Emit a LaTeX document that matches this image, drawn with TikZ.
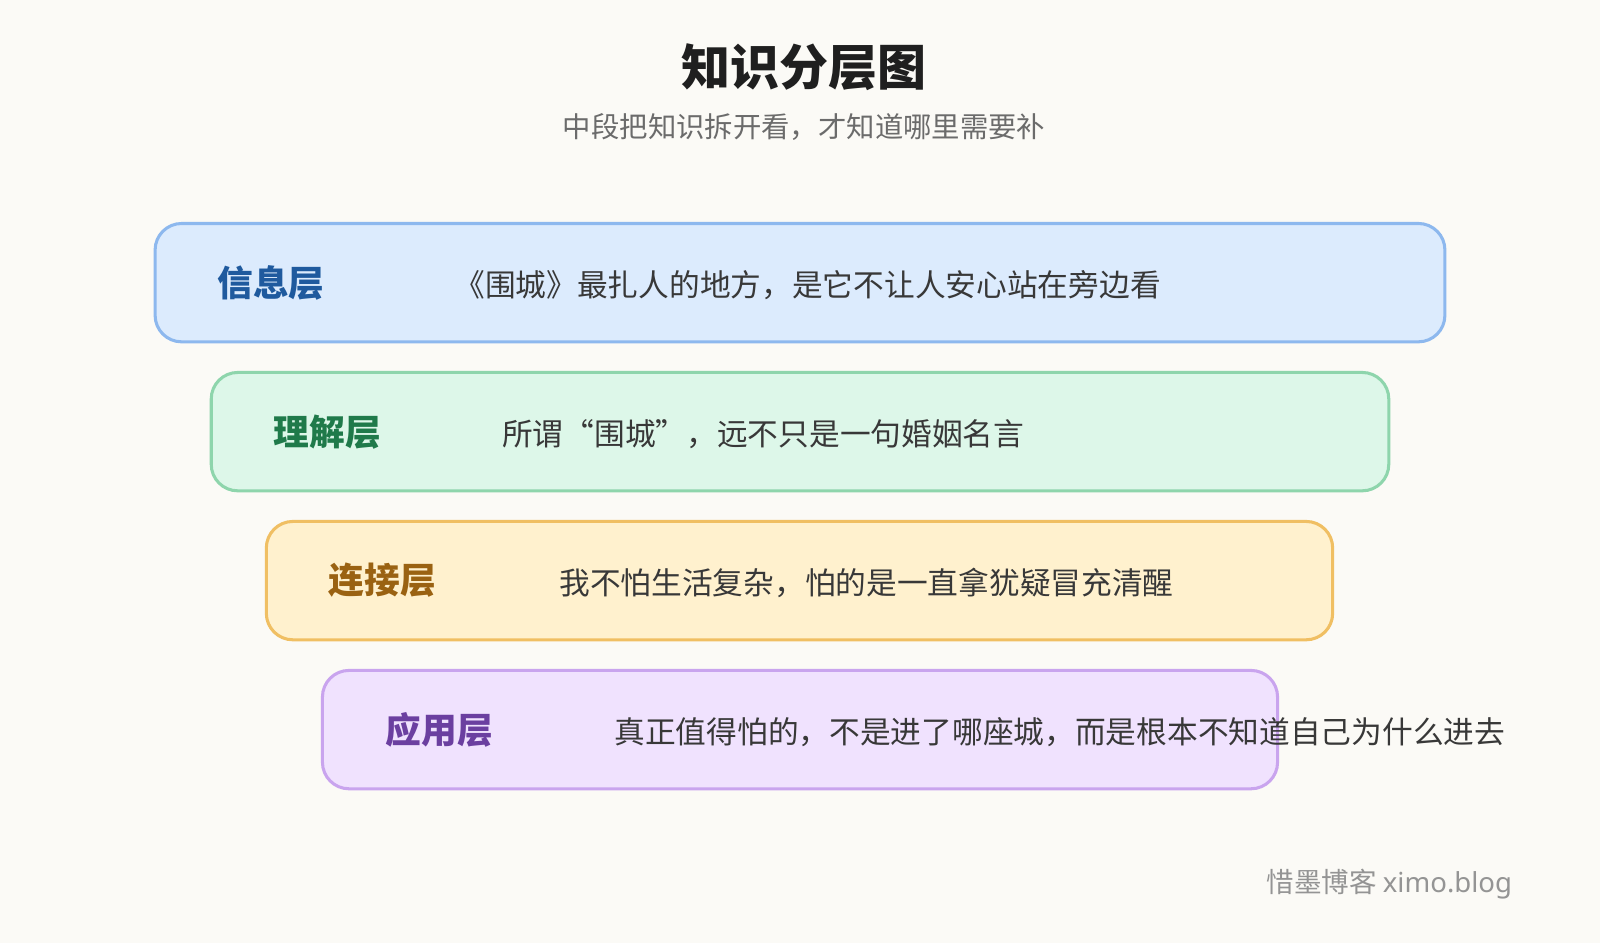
\documentclass[tikz,border=0pt]{standalone}
\usepackage{fontspec}
\setmainfont{Noto Sans CJK SC}
\newfontfamily\latinsans{Noto Sans}
\definecolor{bg}{HTML}{FBFAF6}
\definecolor{f1}{HTML}{DCEBFD}\definecolor{s1}{HTML}{8DB8EE}\definecolor{l1}{HTML}{1F5A9E}
\definecolor{f2}{HTML}{DDF7E9}\definecolor{s2}{HTML}{8ED5AC}\definecolor{l2}{HTML}{1F7A4A}
\definecolor{f3}{HTML}{FFF1CE}\definecolor{s3}{HTML}{F0BF63}\definecolor{l3}{HTML}{9A6212}
\definecolor{f4}{HTML}{F0E2FE}\definecolor{s4}{HTML}{C9A4EE}\definecolor{l4}{HTML}{6B3FA0}
\begin{document}
\begin{tikzpicture}[x=1pt,y=-1pt,
  layer/.style={rounded corners=26pt,line width=3pt},
  lab/.style={anchor=west,font=\fontsize{35}{38}\selectfont\bfseries,inner sep=0pt},
  txt/.style={anchor=west,font=\fontsize{30.1}{33}\selectfont,text=black!78,inner sep=0pt}]
\fill[bg] (0,0) rectangle (1568,924);
\useasboundingbox (0,0) rectangle (1568,924);
\node[font=\fontsize{48}{52}\selectfont\bfseries,text=black!88] (title) at (788,66) {知识分层图};
\node[font=\fontsize{27.8}{31}\selectfont,text=black!58] (sub) at (788,124) {中段把知识拆开看，才知道哪里需要补};
\draw[layer,fill=f1,draw=s1] (152,219) rectangle (1416,335);
\node[lab,text=l1] (a) at (213,277) {信息层};
\node[txt] (at) at (445,279) {《围城》最扎人的地方，是它不让人安心站在旁边看};
\draw[layer,fill=f2,draw=s2] (207,365) rectangle (1361,481);
\node[lab,text=l2] (b) at (268,423) {理解层};
\node[txt] (bt) at (492,425) {所谓“围城”，远不只是一句婚姻名言};
\draw[layer,fill=f3,draw=s3] (261,511) rectangle (1306,627);
\node[lab,text=l3] (c) at (322,569) {连接层};
\node[txt] (ct) at (548,571) {我不怕生活复杂，怕的是一直拿犹疑冒充清醒};
\draw[layer,fill=f4,draw=s4] (316,657) rectangle (1252,773);
\node[lab,text=l4] (d) at (378,715) {应用层};
\node[txt] (dt) at (602,717) {真正值得怕的，不是进了哪座城，而是根本不知道自己为什么进去};
\node[anchor=east,font=\fontsize{27}{30}\selectfont,text=black!42,inner sep=0pt] (wm) at (1482,866) {惜墨博客 {\latinsans ximo.blog}};
\end{tikzpicture}
\end{document}
